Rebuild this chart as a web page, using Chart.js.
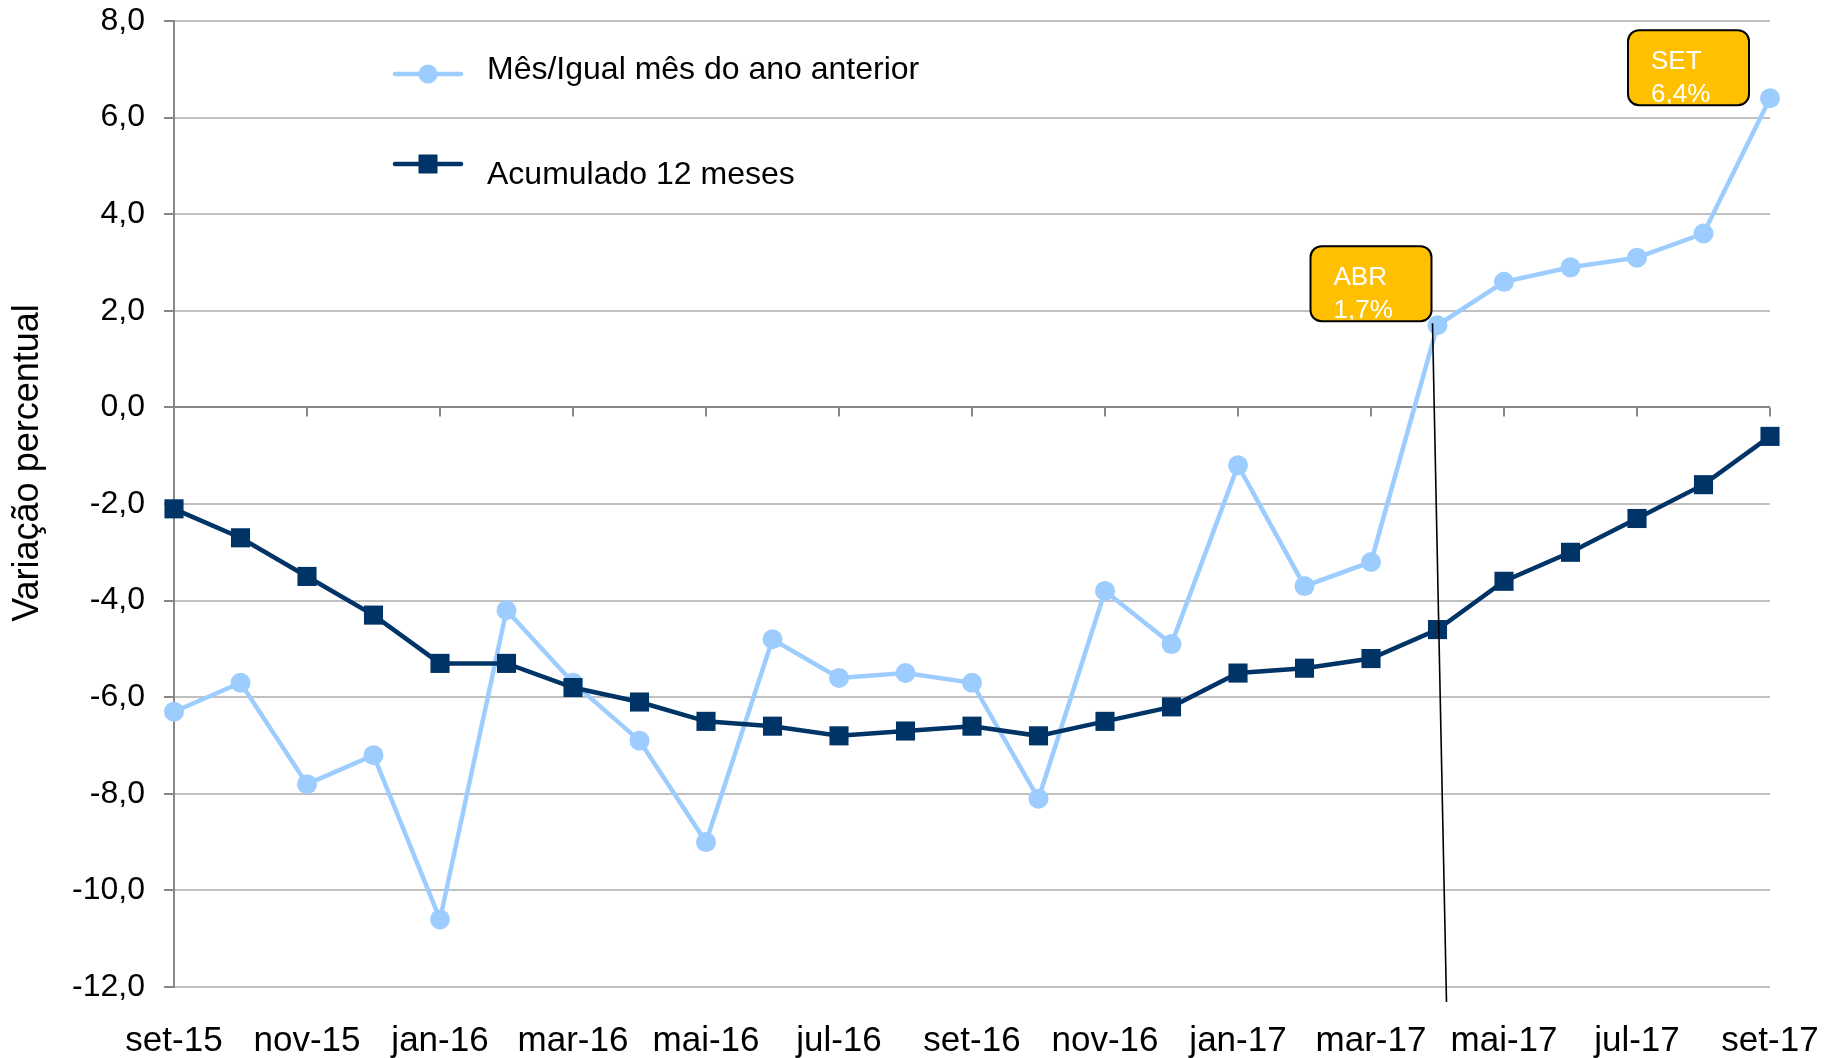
<!DOCTYPE html>
<html>
<head>
<meta charset="utf-8">
<script src="https://cdn.jsdelivr.net/npm/chart.js@4.4.1/dist/chart.umd.min.js"></script>
<style>
  html, body { margin: 0; padding: 0; background: #ffffff; }
  canvas { display: block; }
</style>
</head>
<body>
<canvas id="c" width="1840" height="1058"></canvas>
<script>
// ---------- data ----------
const categories = ['set-15','out-15','nov-15','dez-15','jan-16','fev-16','mar-16','abr-16','mai-16','jun-16','jul-16','ago-16','set-16','out-16','nov-16','dez-16','jan-17','fev-17','mar-17','abr-17','mai-17','jun-17','jul-17','ago-17','set-17'];
const monthlyValues = [-6.3,-5.7,-7.8,-7.2,-10.6,-4.2,-5.7,-6.9,-9.0,-4.8,-5.6,-5.5,-5.7,-8.1,-3.8,-4.9,-1.2,-3.7,-3.2,1.7,2.6,2.9,3.1,3.6,6.4];
const accumulatedValues = [-2.1,-2.7,-3.5,-4.3,-5.3,-5.3,-5.8,-6.1,-6.5,-6.6,-6.8,-6.7,-6.6,-6.8,-6.5,-6.2,-5.5,-5.4,-5.2,-4.6,-3.6,-3.0,-2.3,-1.6,-0.6];
const seriesNames = ['Mês/Igual mês do ano anterior', 'Acumulado 12 meses'];
const yAxisTitle = 'Variação percentual';
const yMin = -12, yMax = 8, yStep = 2;
const calloutMonths = ['ABR', 'SET'];
const calloutIndexes = [19, 24];

// ---------- styles ----------
const FONT = "'Liberation Sans', Arial, sans-serif";
const LIGHT = '#9DCDFF', DARK = '#003366', GRID = '#C0C0C0', AXIS = '#878787', GOLD = '#FFC000';
const fmt = v => v.toFixed(1).replace('.', ',');

const decor = {
  id: 'decor',
  beforeDatasetsDraw(chart) {
    const { ctx, scales: { x, y } } = chart;
    const y0 = y.getPixelForValue(0);
    ctx.save();
    ctx.strokeStyle = AXIS; ctx.lineWidth = 2;
    categories.forEach((c, i) => {
      if (i % 2 === 0 && i > 0) {
        const px = x.getPixelForValue(i);
        ctx.beginPath(); ctx.moveTo(px, y0); ctx.lineTo(px, y0 + 9); ctx.stroke();
      }
    });
    ctx.restore();
  },
  afterDatasetsDraw(chart) {
    const { ctx, chartArea: ca, scales: { x, y } } = chart;
    ctx.save();
    // y axis title
    ctx.save();
    ctx.translate(28, (ca.top + ca.bottom) / 2 - 41);
    ctx.rotate(-Math.PI / 2);
    ctx.font = `36px ${FONT}`; ctx.fillStyle = '#000';
    ctx.textAlign = 'center'; ctx.textBaseline = 'middle';
    ctx.fillText(yAxisTitle, 0, 0);
    ctx.restore();

    // legend
    const items = [
      { color: LIGHT, style: 'circle', label: seriesNames[0], yLine: ca.top + 53, yText: ca.top + 58 },
      { color: DARK, style: 'rect', label: seriesNames[1], yLine: ca.top + 143, yText: ca.top + 163 }
    ];
    const lx = ca.left + 221;
    items.forEach(it => {
      ctx.strokeStyle = it.color; ctx.lineWidth = 4.5; ctx.lineCap = 'round';
      ctx.beginPath(); ctx.moveTo(lx, it.yLine); ctx.lineTo(lx + 66, it.yLine); ctx.stroke();
      ctx.fillStyle = it.color;
      if (it.style === 'circle') { ctx.beginPath(); ctx.arc(lx + 33, it.yLine, 9.5, 0, Math.PI * 2); ctx.fill(); }
      else { ctx.fillRect(lx + 33 - 9.5, it.yLine - 9.5, 19, 19); }
      ctx.fillStyle = '#000'; ctx.font = `32px ${FONT}`;
      ctx.textAlign = 'left'; ctx.textBaseline = 'alphabetic';
      ctx.fillText(it.label, lx + 92, it.yText);
    });

    // leader line from ABR point
    const i0 = calloutIndexes[0];
    const p0x = x.getPixelForValue(i0), p0y = y.getPixelForValue(monthlyValues[i0]);
    ctx.strokeStyle = '#000'; ctx.lineWidth = 1.6; ctx.lineCap = 'butt';
    ctx.beginPath(); ctx.moveTo(p0x - 5, p0y - 2); ctx.lineTo(p0x + 9, ca.bottom + 15); ctx.stroke();

    // callout boxes
    const offs = [{ dx: -6, dy: -4 }, { dx: -21, dy: 7 }];
    const bw = 121, bh = 75;
    calloutIndexes.forEach((idx, k) => {
      const px = x.getPixelForValue(idx), py = y.getPixelForValue(monthlyValues[idx]);
      const bx = px + offs[k].dx - bw, by = py + offs[k].dy - bh;
      ctx.beginPath(); ctx.roundRect(bx, by, bw, bh, 11);
      ctx.fillStyle = GOLD; ctx.fill();
      ctx.save(); ctx.clip();
      ctx.fillStyle = '#fff'; ctx.font = `26px ${FONT}`;
      ctx.textAlign = 'left'; ctx.textBaseline = 'alphabetic';
      ctx.fillText(calloutMonths[k], bx + 23, by + 39);
      ctx.fillText(fmt(monthlyValues[idx]) + '%', bx + 23, by + 72);
      ctx.restore();
      ctx.beginPath(); ctx.roundRect(bx, by, bw, bh, 11);
      ctx.strokeStyle = '#000'; ctx.lineWidth = 2; ctx.stroke();
    });
    ctx.restore();
  }
};

new Chart(document.getElementById('c'), {
  type: 'line',
  data: {
    labels: categories,
    datasets: [
      {
        label: seriesNames[0], data: monthlyValues, order: 1,
        borderColor: LIGHT, backgroundColor: LIGHT, borderWidth: 4.5,
        pointStyle: 'circle', pointRadius: 10, pointBorderWidth: 0,
        pointBackgroundColor: LIGHT, tension: 0, clip: false
      },
      {
        label: seriesNames[1], data: accumulatedValues, order: 0,
        borderColor: DARK, backgroundColor: DARK, borderWidth: 4.5,
        pointStyle: 'rect', pointRadius: 13.5, pointBorderWidth: 0,
        pointBackgroundColor: DARK, tension: 0, clip: false
      }
    ]
  },
  options: {
    responsive: false, animation: false, devicePixelRatio: 1,
    layout: { padding: { left: 0, right: 70, top: 21, bottom: 0 } },
    plugins: { legend: { display: false }, tooltip: { enabled: false }, title: { display: false } },
    scales: {
      x: {
        type: 'category', offset: false,
        grid: { display: false }, border: { display: false },
        ticks: {
          autoSkip: false, maxRotation: 0, minRotation: 0, padding: 25,
          color: '#000', font: { family: FONT, size: 35 },
          callback: (v, i) => (i % 2 === 0 ? categories[i] : '')
        },
        afterFit: s => { s.height = 71; s.paddingLeft = 0; s.paddingRight = 0; }
      },
      y: {
        min: yMin, max: yMax,
        ticks: {
          stepSize: yStep, padding: 19, color: '#000',
          font: { family: FONT, size: 32 }, callback: v => fmt(v)
        },
        grid: {
          color: c => (c.tick && c.tick.value === 0 ? AXIS : GRID),
          lineWidth: 2, tickLength: 10, tickColor: AXIS, drawTicks: true
        },
        border: { display: true, color: AXIS, width: 2 },
        afterFit: s => { s.width = 174; s.paddingTop = 0; s.paddingBottom = 0; }
      }
    }
  },
  plugins: [decor]
});
</script>
</body>
</html>
